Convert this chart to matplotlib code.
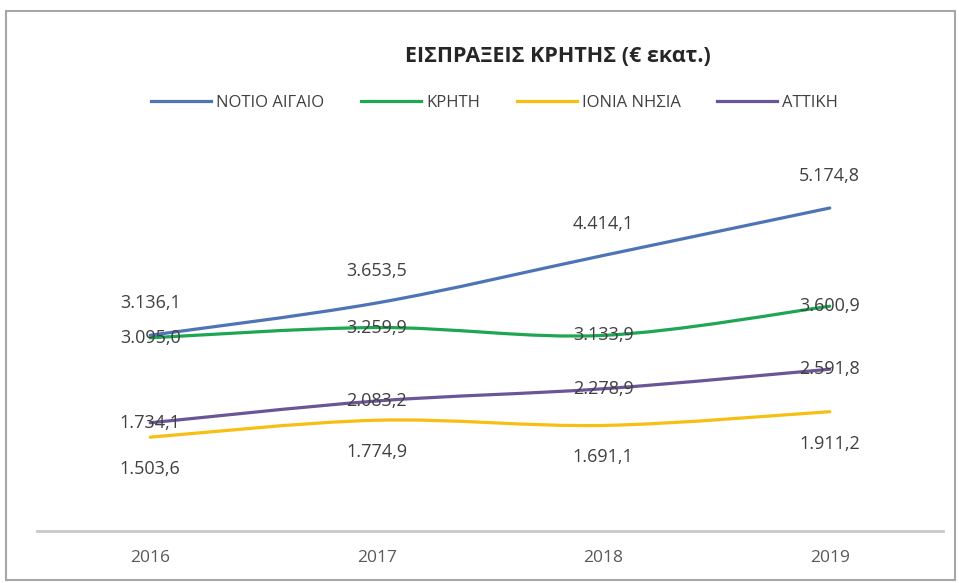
import matplotlib.pyplot as plt
from matplotlib.path import Path
from matplotlib.patches import PathPatch, Rectangle
from matplotlib.lines import Line2D
import numpy as np

plt.rcParams['font.family'] = ['Open Sans', 'DejaVu Sans']

years = ["2016", "2017", "2018", "2019"]
notio_aigaio = [3136.1, 3653.5, 4414.1, 5174.8]
kriti = [3095.0, 3259.9, 3133.9, 3600.9]
ionia = [1503.6, 1774.9, 1691.1, 1911.2]
attiki = [1734.1, 2083.2, 2278.9, 2591.8]

series = [
    ("ΝΟΤΙΟ ΑΙΓΑΙΟ", notio_aigaio, "#4F74B6", "above"),
    ("ΚΡΗΤΗ", kriti, "#1EA653", "center"),
    ("ΙΟΝΙΑ ΝΗΣΙΑ", ionia, "#F6BF12", "below"),
    ("ΑΤΤΙΚΗ", attiki, "#6A5596", "center"),
]


def smooth_path(xs, ys):
    """Bezier path through the points, like Excel smoothed lines."""
    pts = np.column_stack([xs, ys]).astype(float)
    n = len(pts)
    verts = [pts[0]]
    codes = [Path.MOVETO]
    for i in range(n - 1):
        p0 = pts[i - 1] if i > 0 else pts[i]
        p1 = pts[i]
        p2 = pts[i + 1]
        p3 = pts[i + 2] if i + 2 < n else pts[i + 1]
        c1 = p1 + (p2 - p0) / 6
        c2 = p2 - (p3 - p1) / 6
        verts += [c1, c2, p2]
        codes += [Path.CURVE4] * 3
    return Path(verts, codes)


def fmt(v):
    s = "{:,.1f}".format(v)
    return s.replace(",", "X").replace(".", ",").replace("X", ".")


fig = plt.figure(figsize=(9.59, 5.83), dpi=100)
ax = fig.add_axes([37 / 959, 52 / 583, 906 / 959, 374.5 / 583])

x = np.arange(len(years))
handles = []
for name, vals, color, pos in series:
    patch = PathPatch(smooth_path(x, vals), facecolor="none", edgecolor=color,
                      lw=2.3, capstyle="round", zorder=2)
    ax.add_patch(patch)
    handles.append(Line2D([], [], color=color, lw=2.3, label=name))
    for xi, v in zip(x, vals):
        dy = {"above": 23, "center": 0, "below": -23}[pos]
        ax.annotate(fmt(v), (xi, v), xytext=(0, dy), textcoords="offset points",
                    ha="center", va="center", fontsize=13, color="#404040",
                    zorder=3)

ax.set_xlim(-0.5, 3.5)
ax.set_ylim(0, 6000)
ax.set_xticks(x)
ax.set_xticklabels(years, fontsize=12.5, color="#595959")
ax.tick_params(axis="x", length=0, pad=14)
ax.set_yticks([])
for s in ["top", "left", "right"]:
    ax.spines[s].set_visible(False)
ax.spines["bottom"].set_color("#C8C8C8")
ax.spines["bottom"].set_linewidth(2)

fig.text(0.582, 1 - 57 / 583, "ΕΙΣΠΡΑΞΕΙΣ ΚΡΗΤΗΣ (€ εκατ.)", ha="center",
         va="center", fontsize=15.5, fontweight="bold", color="#262626")

fig.legend(handles=handles, loc="center", bbox_to_anchor=(0.516, 1 - 103 / 583),
           ncol=4, frameon=False, fontsize=12, handlelength=3.6,
           columnspacing=2.2, handletextpad=0.3, labelcolor="#404040")

fig.patches.append(Rectangle((6 / 959, 3 / 583), 949 / 959, 569 / 583,
                             transform=fig.transFigure, fill=False,
                             edgecolor="#A6A6A6", lw=1.5))

fig.savefig("out.png", dpi=100)
